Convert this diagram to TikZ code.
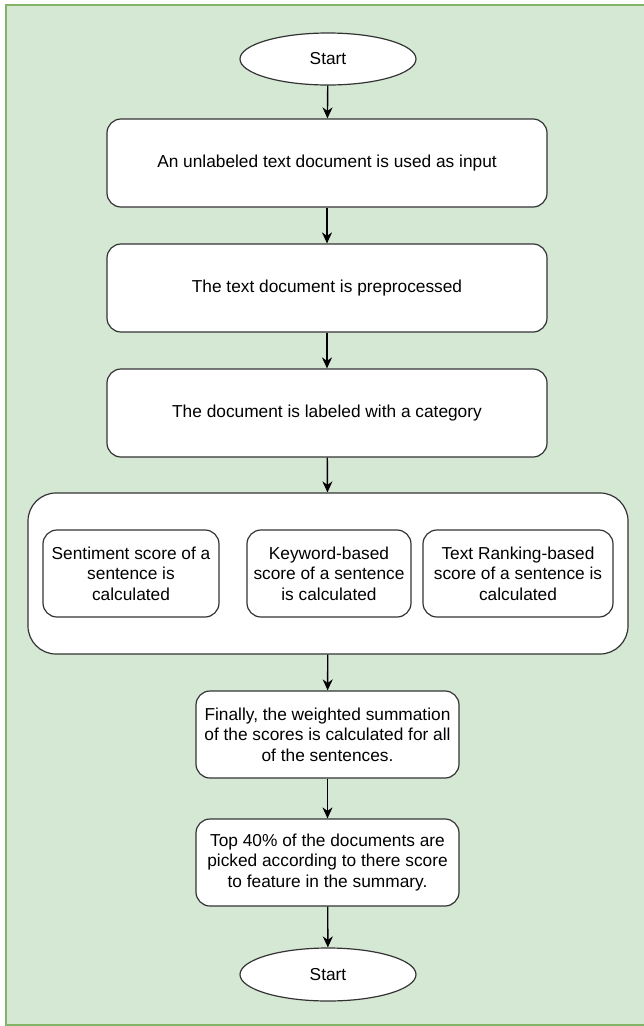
\documentclass[tikz,border=0pt]{standalone}
\usepackage{fontspec}
\setmainfont{Liberation Sans}
\usetikzlibrary{shapes.geometric,arrows.meta}
\definecolor{bggreen}{HTML}{D5E8D4}
\definecolor{bgborder}{HTML}{82B366}
\definecolor{strokegray}{HTML}{333333}
\begin{document}
\begin{tikzpicture}[x=1pt,y=-1pt,
  every node/.style={font=\fontsize{17.3}{20.6}\selectfont, align=center, inner sep=0pt},
  terminal/.style={ellipse, draw=strokegray, fill=white, line width=1.2pt, minimum width=176pt, minimum height=52pt},
  procbox/.style={rectangle, rounded corners=14pt, draw=strokegray, fill=white, line width=1.2pt},
  groupbox/.style={rectangle, rounded corners=28pt, draw=strokegray, fill=white, line width=1.2pt, minimum width=600pt, minimum height=161pt},
  flow/.style={draw=black, line width=1.4pt, -{Stealth[length=11pt,width=10pt,inset=3.5pt]}}
]
\useasboundingbox (0,0) rectangle (644,1026);
\fill[bggreen] (6,5) rectangle (652,1025);
\draw[bgborder, line width=1.3pt] (652,5) -- (6,5) -- (6,1025) -- (652,1025);

\node[terminal] (start) at (328,59) {Start};
\node[procbox, minimum width=440pt, minimum height=88pt] (b1) at (327,163) {An unlabeled text document is used as input};
\node[procbox, minimum width=440pt, minimum height=88pt] (b2) at (327,288) {The text document is preprocessed};
\node[procbox, minimum width=440pt, minimum height=88pt] (b3) at (327,413) {The document is labeled with a category};
\node[groupbox] (grp) at (328,573.5) {};
\node[procbox, minimum width=176pt, minimum height=87pt] (i1) at (131,573.5) {Sentiment score of a\\sentence is\\calculated};
\node[procbox, minimum width=164pt, minimum height=87pt] (i2) at (329,573.5) {Keyword-based\\score of a sentence\\is calculated};
\node[procbox, minimum width=190pt, minimum height=87pt] (i3) at (518,573.5) {Text Ranking-based\\score of a sentence is\\calculated};
\node[procbox, minimum width=263pt, minimum height=87pt] (f1) at (327.5,734.5) {Finally, the weighted summation\\of the scores is calculated for all\\of the sentences.};
\node[procbox, minimum width=263pt, minimum height=87pt] (f2) at (327.5,862.5) {Top 40\% of the documents are\\picked according to there score\\to feature in the summary.};
\node[terminal, minimum height=53pt] (stop) at (328,974.5) {Start};

\draw[flow] (start) -- (b1);
\draw[flow] (b1) -- (b2);
\draw[flow] (b2) -- (b3);
\draw[flow] (b3) -- (grp);
\draw[flow] (grp) -- (f1);
\draw[flow] (f1) -- (f2);
\draw[flow] (f2) -- (stop);
\end{tikzpicture}
\end{document}
